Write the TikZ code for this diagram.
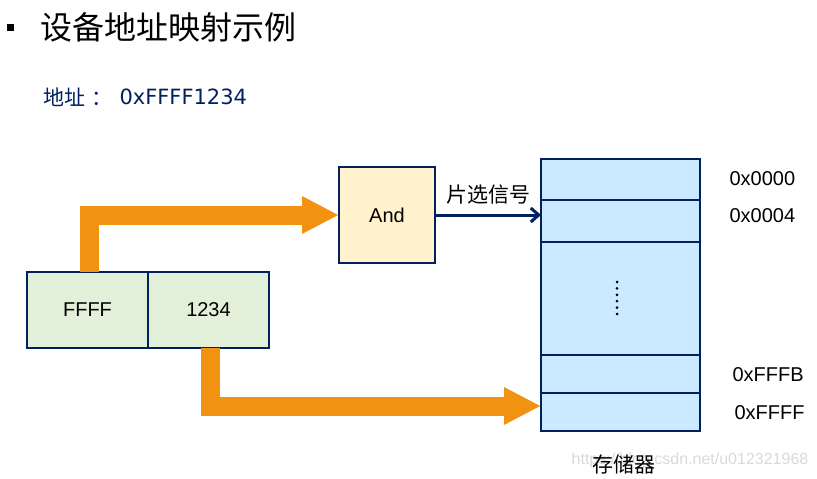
\documentclass[tikz,border=0pt]{standalone}
\usepackage{fontspec}
\setmainfont{Liberation Sans}
\newfontfamily\cjk{Noto Sans CJK SC}
\newfontfamily\vfont{DejaVu Sans}
\usetikzlibrary{positioning,arrows.meta}

\definecolor{navy}{RGB}{0,32,96}
\definecolor{fatorange}{RGB}{242,146,17}
\definecolor{cellgreen}{RGB}{226,240,217}
\definecolor{cellyellow}{RGB}{255,242,204}
\definecolor{cellblue}{RGB}{204,234,255}

\begin{document}
\begin{tikzpicture}[x=1pt,y=-1pt,
    cell/.style={draw=navy,line width=1.2pt,outer sep=0pt,inner sep=0pt,
      font=\fontsize{20}{24}\selectfont},
    memrow/.style={cell,fill=cellblue,minimum width=159pt},
    fatarrow/.style={draw=fatorange,line width=19pt,line join=miter,
      -{Triangle[length=37pt,width=35pt]}},
    addr/.style={anchor=west,font=\fontsize{20}{24}\selectfont}]

    \useasboundingbox (0,0) rectangle (817,479);

    % title
    \fill (7,24) rectangle (14,31);
    \node[anchor=west,font=\cjk\fontsize{32}{37}\selectfont] (title) at (37,27) {设备地址映射示例};
    \node[anchor=west,text=navy,font=\cjk\fontsize{21}{25}\selectfont] (addrlbl) at (40,97) {地址\kern6pt：};
    \node[anchor=west,text=navy,font=\vfont\fontsize{21}{25}\selectfont] (addrval) at (116,97) {0xFFFF1234};

    % these are the boxes
    \node[cell,fill=cellgreen,minimum width=121pt,minimum height=76pt] (ffff) at (87.5,310) {FFFF};
    \node[cell,fill=cellgreen,minimum width=121pt,minimum height=76pt] (lowpart) at (208.5,310) {1234};
    \node[cell,fill=cellyellow,minimum width=96pt,minimum height=96pt] (andgate) at (387,215) {And};

    % the memory
    \node[memrow,minimum height=41pt] (mem0) at (620.5,179.5) {};
    \node[memrow,minimum height=42pt,below=0pt of mem0] (mem1) {};
    \node[memrow,minimum height=113pt,below=0pt of mem1] (mem2) {};
    \node[memrow,minimum height=38pt,below=0pt of mem2] (mem3) {};
    \node[memrow,minimum height=38pt,below=0pt of mem3] (mem4) {};
    \foreach \i in {0,...,5}
      \fill (617,282+6.4*\i) circle (1.5pt);

    \node[addr] (a0) at (726,179) {0x0000};
    \node[addr] (a4) at (726,216) {0x0004};
    \node[addr] (afb) at (729,375) {0xFFFB};
    \node[addr] (aff) at (731,413) {0xFFFF};

    \node[text=black!15,font=\fontsize{16}{19}\selectfont] (mark) at (690,460) {https://blog.csdn.net/u012321968};
    \node[font=\cjk\fontsize{21}{25}\selectfont] (memname) at (624,464) {存储器};

    % the arrows
    \draw[fatarrow] ([xshift=2pt]ffff.north) |- (andgate.west);
    \draw[fatarrow] ([xshift=1.5pt]lowpart.south) |- ([yshift=6pt]mem4.west);
    \draw[navy,line width=3pt,-{Straight Barb[length=8pt,width=14pt]}]
      (andgate.east) -- (andgate.east -| mem1.west)
      node[midway,above=6pt,text=black,font=\cjk\fontsize{21}{25}\selectfont] (sel) {片选信号};

\end{tikzpicture}
\end{document}
